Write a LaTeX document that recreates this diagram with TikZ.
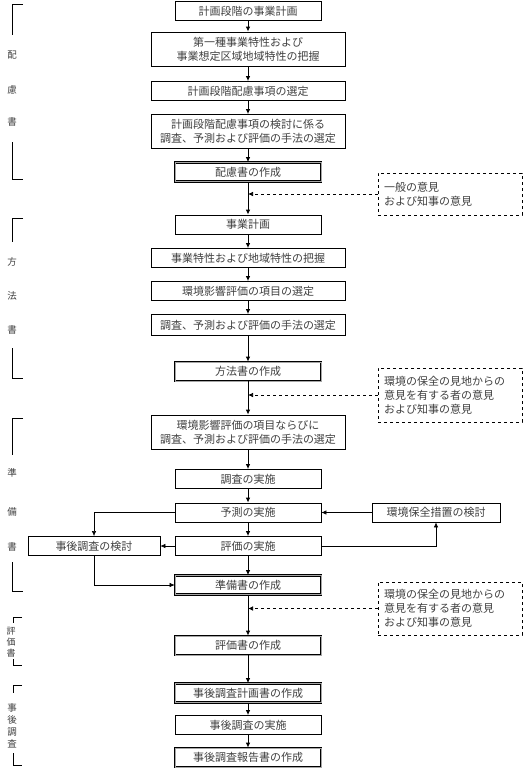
\documentclass[tikz,border=0pt]{standalone}
\usepackage{fontspec}
\newfontfamily\jpfont{Noto Sans CJK JP}
\usetikzlibrary{arrows.meta,positioning}

\begin{document}
\begin{tikzpicture}[
		x=1pt, y=-1pt,
		font=\jpfont\fontsize{11}{14}\selectfont,
		arrow/.style={-{Latex[length=5pt,width=4.5pt]}},
		flow/.style={arrow, line width=0.9pt},
		link/.style={arrow, line width=0.6pt},
		dasharrow/.style={arrow, dashed, line width=0.7pt},
		block/.style={draw, line width=0.8pt, minimum height=19pt, minimum width=146pt, inner sep=2pt, align=center, text=black!75},
		wide/.style={block, minimum width=194pt},
		doc/.style={block, line width=0.7pt, double=black!35, double distance=0.9pt},
		note/.style={draw, dashed, line width=0.7pt, text width=132pt, inner xsep=6pt, inner ysep=3pt, align=left, text=black!75},
		lab/.style={font=\jpfont\fontsize{9.5}{9.5}\selectfont, text=black!75},
		bracket/.style={line width=0.8pt},
	]
		\useasboundingbox (0,0) rectangle (531,772);

		% 配慮書
		\node (hplan) [block] at (248,11) {計画段階の事業計画};
		\node (hchar) [wide, minimum height=34pt] at (248,49) {第一種事業特性および\\事業想定区域地域特性の把握};
		\node (hitem) [wide] at (248,91) {計画段階配慮事項の選定};
		\node (hmeth) [wide, minimum height=34pt] at (248,131.5) {計画段階配慮事項の検討に係る\\調査、予測および評価の手法の選定};
		\node (hdoc) [doc] at (248,172) {配慮書の作成};

		% 方法書
		\node (mplan) [block] at (248,224.5) {事業計画};
		\node (mchar) [wide] at (248,258) {事業特性および地域特性の把握};
		\node (mitem) [wide] at (248,291) {環境影響評価の項目の選定};
		\node (mmeth) [wide, minimum height=21pt] at (248,325) {調査、予測および評価の手法の選定};
		\node (mdoc) [doc] at (248,371.5) {方法書の作成};

		% 準備書
		\node (jsel) [wide, minimum height=34pt] at (248,432) {環境影響評価の項目ならびに\\調査、予測および評価の手法の選定};
		\node (jsurv) [block] at (248,479) {調査の実施};
		\node (jpred) [block] at (248,512.5) {予測の実施};
		\node (jeval) [block] at (248,546) {評価の実施};
		\node (jdoc) [doc] at (248,585) {準備書の作成};
		\node (cons) [block, minimum width=128pt] at (436,512.5) {環境保全措置の検討};
		\node (follow) [block, minimum width=132pt] at (94,546) {事後調査の検討};

		% 評価書・事後調査
		\node (edoc) [doc] at (248,645.5) {評価書の作成};
		\node (fplan) [doc] at (248,693) {事後調査計画書の作成};
		\node (fexec) [block] at (248,725) {事後調査の実施};
		\node (frep) [doc] at (248,757.5) {事後調査報告書の作成};

		% 意見
		\node (op1) [note, minimum height=42pt] at (450,194) {一般の意見\\および知事の意見};
		\node (op2) [note, minimum height=54pt] at (450,395) {環境の保全の見地からの\\意見を有する者の意見\\および知事の意見};
		\node (op3) [note, minimum height=53pt] at (450,608.5) {環境の保全の見地からの\\意見を有する者の意見\\および知事の意見};

		\draw[flow] (hplan) -- (hchar);
		\draw[flow] (hchar) -- (hitem);
		\draw[flow] (hitem) -- (hmeth);
		\draw[flow] (hmeth) -- (hdoc);
		\draw[flow] (hdoc) -- (mplan);
		\draw[flow] (mplan) -- (mchar);
		\draw[flow] (mchar) -- (mitem);
		\draw[flow] (mitem) -- (mmeth);
		\draw[flow] (mmeth) -- (mdoc);
		\draw[flow] (mdoc) -- (jsel);
		\draw[flow] (jsel) -- (jsurv);
		\draw[flow] (jsurv) -- (jpred);
		\draw[flow] (jpred) -- (jeval);
		\draw[flow] (jeval) -- (jdoc);
		\draw[flow] (jdoc) -- (edoc);
		\draw[flow] (edoc) -- (fplan);
		\draw[flow] (fplan) -- (fexec);
		\draw[flow] (fexec) -- (frep);

		\draw[dasharrow] (op1.west) -- (op1.west -| hdoc.south);
		\draw[dasharrow] (op2.west) -- (op2.west -| mdoc.south);
		\draw[dasharrow] (op3.west) -- (op3.west -| jdoc.south);

		\draw[link] (cons) -- (jpred);
		\draw[link] (jeval.east) -| (cons.south);
		\draw[link] (jpred.west) -| (follow.north);
		\draw[link] (jeval) -- (follow);
		\draw[link] (follow.south) |- (jdoc.west);

		% 左の括弧
		\draw[bracket] (23,4) -- (12,4) -- (12,35);
		\draw[bracket] (12,142) -- (12,179) -- (23,179);
		\node (lh1) [lab] at (12,55) {配};
		\node (lh2) [lab] at (12,90) {慮};
		\node (lh3) [lab] at (12,122) {書};

		\draw[bracket] (23,218) -- (12,218) -- (12,242);
		\draw[bracket] (12,348) -- (12,378) -- (23,378);
		\node (lm1) [lab] at (12,262) {方};
		\node (lm2) [lab] at (12,296) {法};
		\node (lm3) [lab] at (12,330) {書};

		\draw[bracket] (23,418) -- (12,418) -- (12,455);
		\draw[bracket] (12,562) -- (12,591) -- (23,591);
		\node (lj1) [lab] at (12,473) {準};
		\node (lj2) [lab] at (12,512) {備};
		\node (lj3) [lab] at (12,547) {書};

		\draw[bracket] (22,617) -- (13,617) -- (13,623);
		\draw[bracket] (13,659) -- (13,665) -- (22,665);
		\node (le1) [lab, font=\jpfont\fontsize{9}{9}\selectfont] at (11,631) {評};
		\node (le2) [lab, font=\jpfont\fontsize{9}{9}\selectfont] at (11,642) {価};
		\node (le3) [lab, font=\jpfont\fontsize{9}{9}\selectfont] at (11,653) {書};

		\draw[bracket] (22,685) -- (13,685) -- (13,693);
		\draw[bracket] (13,753) -- (13,765) -- (22,765);
		\node (lf1) [lab] at (12,708) {事};
		\node (lf2) [lab] at (12,720) {後};
		\node (lf3) [lab] at (12,732) {調};
		\node (lf4) [lab] at (12,744) {査};
	\end{tikzpicture}
\end{document}
